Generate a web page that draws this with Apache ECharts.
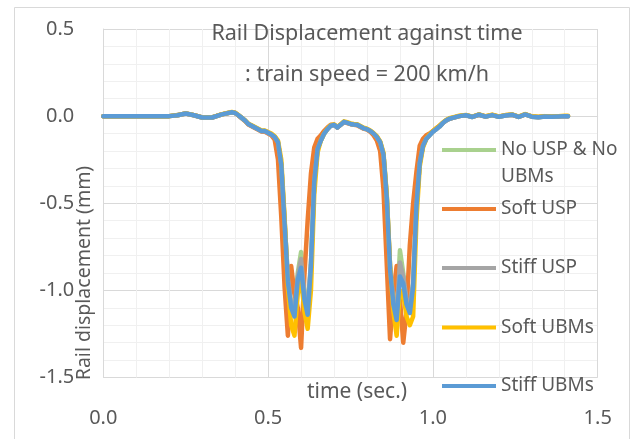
<!DOCTYPE html>
<html><head><meta charset="utf-8">
<script src="https://cdn.jsdelivr.net/npm/echarts@6/dist/echarts.min.js"></script>
<style>html,body{margin:0;padding:0;background:#fff}#c{width:635px;height:439px}</style>
</head><body><div id="c"></div>
<script>
// time (sec.)
const time = [0, 0.1, 0.2, 0.225, 0.25, 0.275, 0.3, 0.33, 0.36, 0.39,
  0.40, 0.41, 0.42, 0.43, 0.44, 0.45, 0.46, 0.47, 0.48, 0.49,
  0.50, 0.51, 0.52, 0.53, 0.54, 0.55, 0.56, 0.57, 0.58, 0.59,
  0.60, 0.61, 0.62, 0.63, 0.64, 0.65, 0.66, 0.67, 0.68, 0.69,
  0.70, 0.71, 0.72, 0.73, 0.74, 0.75, 0.76, 0.77, 0.78, 0.79,
  0.80, 0.81, 0.82, 0.83, 0.84, 0.85, 0.86, 0.87, 0.88, 0.89,
  0.90, 0.91, 0.92, 0.93, 0.94, 0.95, 0.96, 0.97, 0.98, 0.99,
  1.00, 1.01, 1.02, 1.03, 1.04, 1.05, 1.06,
  1.08, 1.10, 1.12, 1.14, 1.16, 1.18, 1.20, 1.22, 1.24, 1.26, 1.28, 1.30, 1.32, 1.34, 1.36, 1.38, 1.40, 1.41];

const noUspNoUbm = [0, 0, 0, 0.005, 0.015, 0.005, -0.008, -0.008, 0.01, 0.022,
  0.018, 0.005, -0.01, -0.025, -0.045, -0.055, -0.065, -0.075, -0.085, -0.085,
  -0.095, -0.105, -0.12, -0.15, -0.28, -0.60, -0.93, -1.08, -1.12, -0.90,
  -0.78, -1.00, -1.10, -0.85, -0.38, -0.19, -0.14, -0.10, -0.075, -0.055,
  -0.05, -0.065, -0.05, -0.033, -0.038, -0.045, -0.048, -0.05, -0.06, -0.07,
  -0.075, -0.085, -0.10, -0.12, -0.15, -0.22, -0.46, -0.86, -1.06, -1.13,
  -0.77, -0.90, -1.04, -1.10, -0.96, -0.52, -0.27, -0.17, -0.13, -0.11,
  -0.09, -0.075, -0.06, -0.04, -0.025, -0.015, -0.01,
  0.0, 0.005, -0.005, 0.008, -0.003, 0.006, -0.004, 0.004, 0.008, -0.005, 0.01, -0.003, -0.006, -0.002, -0.004, -0.002, 0.0, 0.0];

const softUsp = [0, 0, 0, 0.005, 0.015, 0.005, -0.008, -0.008, 0.01, 0.022,
  0.018, 0.004, -0.012, -0.028, -0.048, -0.058, -0.068, -0.078, -0.088, -0.09,
  -0.10, -0.11, -0.135, -0.25, -0.58, -0.98, -1.26, -0.86, -1.02, -1.10,
  -1.33, -0.92, -0.60, -0.33, -0.18, -0.13, -0.11, -0.085, -0.065, -0.05,
  -0.05, -0.065, -0.05, -0.035, -0.04, -0.045, -0.05, -0.052, -0.062, -0.072,
  -0.078, -0.09, -0.11, -0.14, -0.20, -0.42, -0.85, -1.28, -1.02, -0.86,
  -1.05, -1.30, -1.12, -0.74, -0.50, -0.32, -0.17, -0.13, -0.11, -0.10,
  -0.085, -0.07, -0.055, -0.04, -0.025, -0.015, -0.01,
  0.0, 0.005, -0.004, 0.008, -0.002, 0.007, -0.003, 0.005, 0.008, -0.004, 0.01, -0.002, -0.005, -0.002, -0.003, -0.002, 0.0, 0.0];

const stiffUsp = [0, 0, 0, 0.005, 0.015, 0.005, -0.008, -0.008, 0.01, 0.022,
  0.018, 0.005, -0.01, -0.025, -0.045, -0.055, -0.065, -0.075, -0.085, -0.085,
  -0.095, -0.105, -0.12, -0.15, -0.28, -0.60, -0.93, -1.08, -1.12, -0.92,
  -0.82, -1.02, -1.10, -0.85, -0.38, -0.19, -0.14, -0.10, -0.075, -0.055,
  -0.05, -0.065, -0.05, -0.033, -0.038, -0.045, -0.048, -0.05, -0.06, -0.07,
  -0.075, -0.085, -0.10, -0.12, -0.15, -0.22, -0.46, -0.86, -1.06, -1.14,
  -0.84, -0.92, -1.05, -1.10, -0.96, -0.52, -0.27, -0.17, -0.13, -0.11,
  -0.09, -0.075, -0.06, -0.04, -0.025, -0.015, -0.01,
  0.0, 0.005, -0.005, 0.008, -0.003, 0.006, -0.004, 0.004, 0.008, -0.005, 0.01, -0.003, -0.006, -0.002, -0.004, -0.002, 0.0, 0.0];

const softUbm = [0, 0, 0, 0.006, 0.016, 0.006, -0.007, -0.007, 0.011, 0.024,
  0.02, 0.006, -0.009, -0.024, -0.043, -0.053, -0.063, -0.073, -0.083, -0.083,
  -0.092, -0.10, -0.115, -0.14, -0.25, -0.58, -0.98, -1.20, -1.26, -1.02,
  -0.93, -1.12, -1.22, -1.00, -0.45, -0.21, -0.14, -0.10, -0.072, -0.052,
  -0.047, -0.062, -0.047, -0.03, -0.035, -0.042, -0.045, -0.047, -0.057, -0.067,
  -0.072, -0.082, -0.097, -0.115, -0.145, -0.21, -0.45, -0.86, -1.12, -1.26,
  -1.00, -1.02, -1.15, -1.20, -1.15, -0.60, -0.29, -0.18, -0.13, -0.105,
  -0.085, -0.07, -0.055, -0.037, -0.022, -0.012, -0.007,
  0.002, 0.007, -0.003, 0.01, -0.001, 0.008, -0.002, 0.006, 0.01, -0.003, 0.012, -0.001, -0.004, 0.0, -0.002, 0.0, 0.002, 0.002];

const stiffUbm = [0, 0, 0, 0.005, 0.015, 0.005, -0.008, -0.008, 0.01, 0.022,
  0.018, 0.005, -0.01, -0.025, -0.045, -0.055, -0.065, -0.075, -0.085, -0.085,
  -0.095, -0.105, -0.12, -0.15, -0.28, -0.62, -0.95, -1.10, -1.15, -0.94,
  -0.87, -1.05, -1.14, -0.86, -0.38, -0.19, -0.14, -0.10, -0.075, -0.055,
  -0.05, -0.065, -0.05, -0.033, -0.038, -0.045, -0.048, -0.05, -0.06, -0.07,
  -0.075, -0.085, -0.10, -0.12, -0.15, -0.22, -0.47, -0.88, -1.08, -1.17,
  -0.92, -0.96, -1.08, -1.13, -0.98, -0.52, -0.27, -0.17, -0.13, -0.11,
  -0.09, -0.075, -0.06, -0.04, -0.025, -0.015, -0.01,
  0.0, 0.005, -0.005, 0.008, -0.003, 0.006, -0.004, 0.004, 0.008, -0.005, 0.01, -0.003, -0.006, -0.002, -0.004, -0.002, 0.0, 0.0];

const seriesNames = ['No USP & No UBMs', 'Soft USP', 'Stiff USP', 'Soft UBMs', 'Stiff UBMs'];
const seriesValues = [noUspNoUbm, softUsp, stiffUsp, softUbm, stiffUbm];
const seriesColors = ['#A9D18E', '#ED7D31', '#A5A5A5', '#FFC000', '#5B9BD5'];
const xTicks = [0, 0.5, 1.0, 1.5];
const yTicks = [-1.5, -1.0, -0.5, 0.0, 0.5];

const FONT = 'Noto Sans';
const TXT = '#595959';

const chart = echarts.init(document.getElementById('c'), null, {renderer: 'canvas'});

function legendFor(name, top, extraText) {
  return {
    data: [name], left: 442, top: top, orient: 'vertical', padding: 0,
    itemWidth: 54, itemHeight: 4, icon: 'rect', itemGap: 0, selectedMode: false,
    formatter: n => n === 'No USP & No UBMs' ? '\nNo USP & No\nUBMs' : n,
    textStyle: Object.assign({color: TXT, fontSize: 19, fontFamily: FONT, lineHeight: 24}, extraText || {})
  };
}

const option = {
  backgroundColor: '#fff',
  animation: false,
  grid: {left: 103.3, right: 37.3, top: 29, bottom: 61.5, containLabel: false},
  xAxis: {
    type: 'value', min: xTicks[0], max: xTicks[xTicks.length - 1], interval: 0.5,
    axisLine: {show: true, lineStyle: {color: '#d9d9d9', width: 1}},
    axisTick: {show: false},
    splitLine: {show: true, lineStyle: {color: '#d9d9d9', width: 1}},
    minorTick: {show: false, splitNumber: 5},
    minorSplitLine: {show: true, lineStyle: {color: '#f0f0f0', width: 1}},
    axisLabel: {margin: 31, color: TXT, fontSize: 20, fontFamily: FONT, formatter: v => v.toFixed(1), showMaxLabel: true, showMinLabel: true}
  },
  yAxis: {
    type: 'value', min: yTicks[0], max: yTicks[yTicks.length - 1], interval: 0.5,
    axisLine: {show: true, lineStyle: {color: '#d9d9d9', width: 1}},
    axisTick: {show: false},
    splitLine: {show: true, lineStyle: {color: '#d9d9d9', width: 1}},
    minorTick: {show: false, splitNumber: 5},
    minorSplitLine: {show: true, lineStyle: {color: '#f0f0f0', width: 1}},
    axisLabel: {margin: 29, color: TXT, fontSize: 20, fontFamily: FONT, padding: [0, 0, 6, 0], formatter: v => v.toFixed(1), showMaxLabel: true, showMinLabel: true}
  },
  legend: [
    legendFor(seriesNames[0], 109.5, {lineHeight: 27}),
    legendFor(seriesNames[1], 197),
    legendFor(seriesNames[2], 256),
    legendFor(seriesNames[3], 315.5),
    legendFor(seriesNames[4], 374)
  ],
  graphic: [
    {type: 'rect', silent: true, z: -10, shape: {x: 14.5, y: 7.5, width: 615, height: 445},
      style: {fill: 'none', stroke: '#d9d9d9', lineWidth: 1}},
    {type: 'text', x: 367, y: 34, silent: true, z: 100,
      style: {text: 'Rail Displacement against time', font: '21.5px "' + FONT + '"', fill: TXT, align: 'center', verticalAlign: 'middle'}},
    {type: 'text', x: 367, y: 75, silent: true, z: 100,
      style: {text: ': train speed = 200 km/h', font: '21.5px "' + FONT + '"', fill: TXT, align: 'center', verticalAlign: 'middle'}},
    {type: 'text', x: 357, y: 392, silent: true, z: 100,
      style: {text: 'time (sec.)', font: '21px "' + FONT + '"', fill: TXT, align: 'center', verticalAlign: 'middle'}},
    {type: 'text', x: 84, y: 273, rotation: Math.PI / 2, silent: true, z: 100,
      style: {text: 'Rail displacement (mm)', font: '19.5px "' + FONT + '"', fill: TXT, align: 'center', verticalAlign: 'middle'}}
  ],
  series: seriesNames.map((name, k) => ({
    name: name, type: 'line', showSymbol: false, symbol: 'none', smooth: false,
    color: seriesColors[k],
    lineStyle: {color: seriesColors[k], width: 4.5, join: 'round', cap: 'round'},
    data: time.map((t, i) => [t, seriesValues[k][i]]),
    z: 2 + k
  }))
};
chart.setOption(option);
</script></body></html>
